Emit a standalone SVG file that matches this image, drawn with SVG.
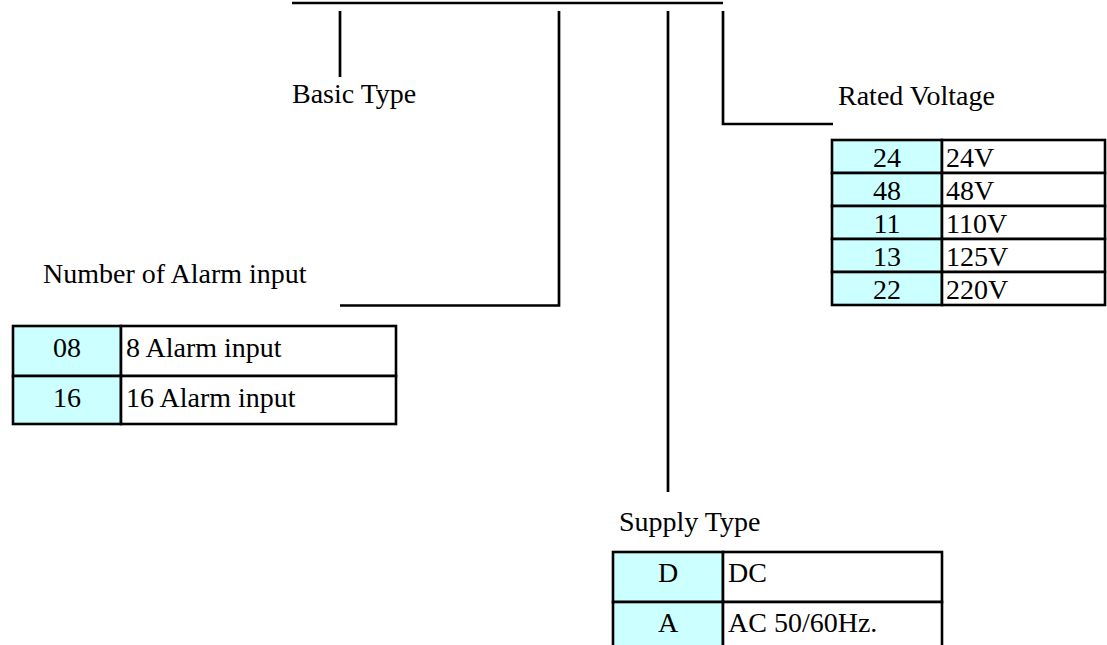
<svg xmlns="http://www.w3.org/2000/svg" width="1107" height="645" viewBox="0 0 1107 645">
<style>
  .ln { stroke:#000; stroke-width:2.7; fill:none; stroke-linecap:butt; }
  .t { font-family:"Liberation Serif","Times New Roman",serif; font-size:28px; fill:#000; }
  .c { text-anchor:middle; }
  .code { fill:#CCFFFF; stroke:#000; stroke-width:2.6; }
  .desc { fill:#FFFFFF; stroke:#000; stroke-width:2.6; }
</style>
<rect width="1107" height="645" fill="#fff"/>
<g id="connectors">
  <line class="ln" x1="292" y1="3" x2="723" y2="3"/>
  <line class="ln" x1="340" y1="11" x2="340" y2="77"/>
  <polyline class="ln" points="559,11 559,305.5 340,305.5"/>
  <line class="ln" x1="668" y1="11" x2="668" y2="492"/>
  <polyline class="ln" points="723,11 723,124 833,124"/>
</g>
<g id="basic-type">
  <text class="t" x="292" y="103">Basic Type</text>
</g>
<g id="rated-voltage">
  <text class="t" x="838" y="105">Rated Voltage</text>
  <rect class="code" x="832" y="140" width="110" height="33"/>
  <rect class="desc" x="942" y="140" width="163" height="33"/>
  <rect class="code" x="832" y="173" width="110" height="33"/>
  <rect class="desc" x="942" y="173" width="163" height="33"/>
  <rect class="code" x="832" y="206" width="110" height="33"/>
  <rect class="desc" x="942" y="206" width="163" height="33"/>
  <rect class="code" x="832" y="239" width="110" height="33"/>
  <rect class="desc" x="942" y="239" width="163" height="33"/>
  <rect class="code" x="832" y="272" width="110" height="33"/>
  <rect class="desc" x="942" y="272" width="163" height="33"/>
  <text class="t c" x="887" y="167">24</text><text class="t" x="946" y="167">24V</text>
  <text class="t c" x="887" y="200">48</text><text class="t" x="946" y="200">48V</text>
  <text class="t c" x="887" y="233">11</text><text class="t" x="946" y="233">110V</text>
  <text class="t c" x="887" y="266">13</text><text class="t" x="946" y="266">125V</text>
  <text class="t c" x="887" y="299">22</text><text class="t" x="946" y="299">220V</text>
</g>
<g id="alarm-input">
  <text class="t" x="43" y="283">Number of Alarm input</text>
  <rect class="code" x="13" y="326" width="108" height="50"/>
  <rect class="desc" x="121" y="326" width="275" height="50"/>
  <rect class="code" x="13" y="376" width="108" height="48"/>
  <rect class="desc" x="121" y="376" width="275" height="48"/>
  <text class="t c" x="67" y="357">08</text><text class="t" x="126" y="357">8 Alarm input</text>
  <text class="t c" x="67" y="407">16</text><text class="t" x="126" y="407">16 Alarm input</text>
</g>
<g id="supply-type">
  <text class="t" x="619" y="531">Supply Type</text>
  <rect class="code" x="613" y="552" width="110" height="50"/>
  <rect class="desc" x="723" y="552" width="219" height="50"/>
  <rect class="code" x="613" y="602" width="110" height="50"/>
  <rect class="desc" x="723" y="602" width="219" height="50"/>
  <text class="t c" x="668" y="582">D</text><text class="t" x="728" y="582">DC</text>
  <text class="t c" x="668" y="632">A</text><text class="t" x="728" y="632">AC 50/60Hz.</text>
</g>
</svg>
